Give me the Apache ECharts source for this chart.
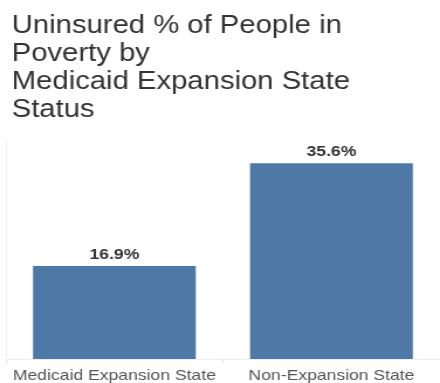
<!DOCTYPE html>
<html>
<head>
<meta charset="utf-8">
<script src="https://cdn.jsdelivr.net/npm/echarts@6/dist/echarts.min.js"></script>
<style>
  html, body { margin: 0; padding: 0; background: #fff; overflow: hidden; }
  /* the chart is laid out narrower and widened to the 440px frame */
  #chart { width: 376px; height: 383px; transform: scaleX(1.1702); transform-origin: 0 0; }
</style>
</head>
<body>
<div id="chart"></div>
<script>
// Uninsured share of people in poverty, by state Medicaid expansion status
const categories = ['Medicaid Expansion State', 'Non-Expansion State'];
const uninsuredPct = [16.9, 35.6];

const chart = echarts.init(document.getElementById('chart'), null, { renderer: 'canvas' });

const fontFamily = 'Liberation Sans, Arial, sans-serif';

chart.setOption({
  animation: false,
  backgroundColor: '#ffffff',
  title: {
    text: 'Uninsured % of People in\nPoverty by\nMedicaid Expansion State\nStatus',
    left: 10,
    top: 12,
    padding: 0,
    textStyle: {
      fontFamily: fontFamily,
      fontSize: 25,
      fontWeight: 'normal',
      color: '#333333',
      lineHeight: 28
    }
  },
  grid: { left: 5, top: 139, width: 372.5, bottom: 16, containLabel: false },
  xAxis: {
    type: 'category',
    data: categories,
    axisLine: { show: true, lineStyle: { color: '#eeeeee', width: 1 } },
    axisTick: { show: true, length: 4, lineStyle: { color: '#e6e6e6' } },
    axisLabel: {
      interval: 0,
      margin: 9,
      fontFamily: fontFamily,
      fontSize: 15,
      color: '#555555'
    }
  },
  yAxis: {
    type: 'value',
    min: 0,
    max: 40,
    axisLine: { show: true, lineStyle: { color: '#f0f0f0', width: 1 } },
    axisTick: { show: false },
    axisLabel: { show: false },
    splitLine: { show: false }
  },
  series: [{
    type: 'bar',
    data: uninsuredPct,
    barWidth: '75%',
    itemStyle: { color: '#4e79a7' },
    label: {
      show: true,
      position: 'top',
      distance: 4,
      formatter: p => p.value.toFixed(1) + '%',
      fontFamily: fontFamily,
      fontSize: 15,
      fontWeight: 'bold',
      color: '#333333'
    }
  }]
});
</script>
</body>
</html>
